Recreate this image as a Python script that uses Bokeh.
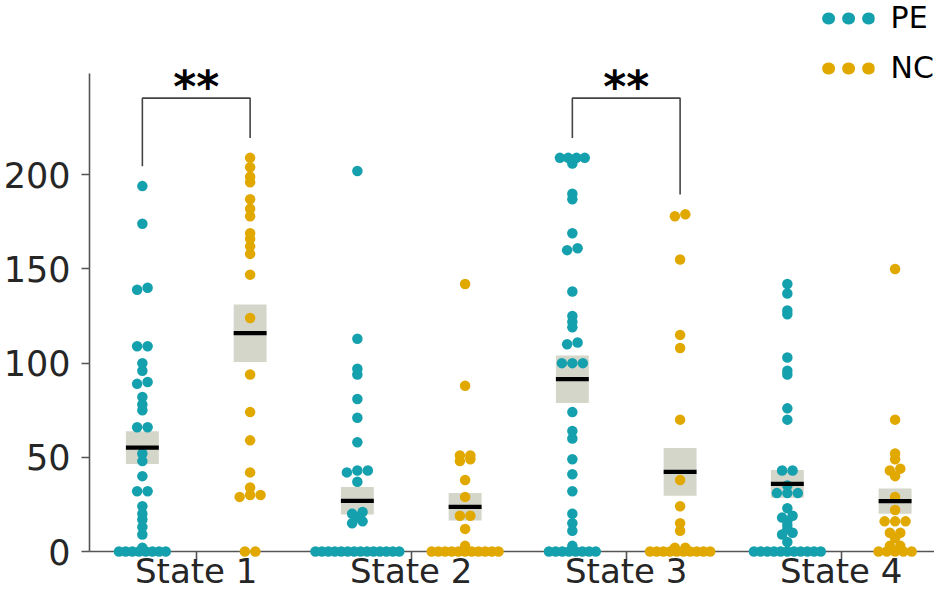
from bokeh.plotting import figure
from bokeh.models import Range1d, FixedTicker, Legend, LegendItem
from bokeh.core.properties import value
from bokeh.embed import file_html
from bokeh.resources import INLINE

# ---------------- data ----------------
states = ["State 1", "State 2", "State 3", "State 4"]
groups = ["PE", "NC"]

pe_s1 = [194, 174, 140, 139, 109, 109, 100, 96, 90, 89, 82, 78, 75, 66, 66, 52, 48, 40,
         32, 32, 24, 20, 17, 13, 9, 2, 0, 0, 0, 0, 0, 0, 0, 0]
pe_s2 = [202, 113, 97, 94, 81, 71, 58, 43, 43, 42, 37, 21, 20, 18, 16, 15,
         0, 0, 0, 0, 0, 0, 0, 0, 0, 0, 0, 0, 0, 0]
pe_s3 = [209, 209, 209, 209, 206, 190, 187, 169, 161, 160, 138, 125, 122, 119, 111, 110,
         100, 100, 100, 74, 64, 60, 49, 41, 32, 20, 15, 11, 3, 0, 0, 0, 0, 0, 0, 0, 0]
pe_s4 = [142, 137, 128, 126, 103, 96, 94, 76, 70, 43, 43, 35, 31, 31, 31, 23, 19, 18, 16,
         14, 12, 10, 9, 5, 0, 0, 0, 0, 0, 0, 0, 0, 0, 0, 0]

nc_s1 = [209, 204, 199, 196, 187, 182, 178, 169, 166, 162, 158, 147, 124, 94, 74, 59, 42,
         34, 30, 30, 29, 0, 0]
nc_s2 = [142, 88, 51, 51, 49, 48, 38, 29, 19, 19, 12, 3, 0, 0, 0, 0, 0, 0, 0, 0, 0, 0, 0]
nc_s3 = [179, 178, 155, 115, 108, 70, 38, 24, 15, 11, 2, 2, 0, 0, 0, 0, 0, 0, 0, 0, 0, 0]
nc_s4 = [150, 70, 52, 49, 44, 43, 40, 29, 22, 16, 16, 16, 10, 10, 7, 3, 3, 0, 0, 0, 0, 0]

pe_mean = [55.2, 26.9, 91.5, 35.9]
pe_sem = [8.7, 7.3, 12.6, 7.4]
nc_mean = [115.9, 23.7, 42.3, 26.7]
nc_sem = [15.3, 7.3, 12.7, 6.7]

sig_states = [0, 2]
sig_labels = ["**", "**"]

y_ticks = [0, 50, 100, 150, 200]

# ---------------- styling / geometry ----------------
PE_COLOR = "#15a0ad"
NC_COLOR = "#e1a800"
BOX_COLOR = "#d5d6ca"
AXIS_COLOR = "#555555"
TEXT_COLOR = "#262626"
FONT = "DejaVu Sans"

W, H = 934, 591
B_LEFT, B_RIGHT, B_TOP, B_BOTTOM = 87, 0, 0, 40
FRAME_W = W - B_LEFT - B_RIGHT
FRAME_H = H - B_TOP - B_BOTTOM
KX = 215.5        # px per category step
KY = 1.8835       # px per y unit
X0 = -107.0 / KX
X1 = X0 + FRAME_W / KX
Y1 = FRAME_H / KY
DODGE = 0.2506
HALF_BOX = 16.5 / KX
DOT = 10.5
NAN = float("nan")


def swarm(vals, center):
    """Centered row layout of points that fall within ~3.5 px of each other."""
    srt = sorted(vals)
    rows = []
    for v in srt:
        if rows and (v - rows[-1][0]) * KY < 3.5:
            rows[-1].append(v)
        else:
            rows.append([v])
    xs, ys = [], []
    for r in rows:
        n = len(r)
        s = 10.5 if n <= 3 else (8.3 if n <= 5 else 6.7)
        if n > 1:
            s = min(s, 84.0 / (n - 1))
        for i, v in enumerate(r):
            xs.append(center + (i - (n - 1) / 2.0) * s / KX)
            ys.append(v)
    return xs, ys


p = figure(width=W, height=H, x_range=Range1d(X0, X1), y_range=Range1d(0, Y1),
           output_backend="svg", toolbar_location=None,
           min_border_left=B_LEFT, min_border_right=B_RIGHT,
           min_border_top=B_TOP, min_border_bottom=B_BOTTOM)
p.outline_line_color = None
p.xgrid.visible = False
p.ygrid.visible = False
p.background_fill_color = "white"
p.border_fill_color = "white"

# axes
for ax in (p.xaxis[0], p.yaxis[0]):
    ax.axis_line_color = AXIS_COLOR
    ax.axis_line_width = 1.6
    ax.major_tick_line_color = AXIS_COLOR
    ax.major_tick_line_width = 1.6
    ax.major_tick_in = 0
    ax.major_tick_out = 8
    ax.minor_tick_line_color = None
    ax.major_label_text_font = FONT
    ax.major_label_text_color = TEXT_COLOR

p.yaxis.ticker = FixedTicker(ticks=y_ticks)
p.yaxis.bounds = (0, 253.6)
p.yaxis.major_label_standoff = 11
p.yaxis.major_label_text_font_size = "35px"

# x axis: ticks at the categories; the category names are drawn as text below
p.xaxis.ticker = FixedTicker(ticks=list(range(len(states))))
p.xaxis.major_label_overrides = {i: "" for i in range(len(states))}
p.xaxis.major_label_text_font_size = "1px"
p.xaxis.major_label_standoff = 0

series = [
    (PE_COLOR, -DODGE, [pe_s1, pe_s2, pe_s3, pe_s4], pe_mean, pe_sem),
    (NC_COLOR, DODGE, [nc_s1, nc_s2, nc_s3, nc_s4], nc_mean, nc_sem),
]

# SEM boxes
for color, off, data, mean, sem in series:
    cx = [i + off for i in range(len(states))]
    p.quad(left=[c - HALF_BOX for c in cx], right=[c + HALF_BOX for c in cx],
           bottom=[m - s for m, s in zip(mean, sem)], top=[m + s for m, s in zip(mean, sem)],
           fill_color=BOX_COLOR, line_color=None)

# swarm points
for color, off, data, mean, sem in series:
    xs, ys = [], []
    for i, vals in enumerate(data):
        x, y = swarm(vals, i + off)
        xs += x
        ys += y
    r = p.scatter(x=xs, y=ys, size=DOT, fill_color=color, line_color=None)
    r.level = "overlay"

# mean lines
for color, off, data, mean, sem in series:
    cx = [i + off for i in range(len(states))]
    r = p.segment(x0=[c - HALF_BOX for c in cx], x1=[c + HALF_BOX for c in cx],
                  y0=mean, y1=mean, line_color="black", line_width=4.2)
    r.level = "overlay"

# category labels under the axis
cat_r = p.text(x=list(range(len(states))), y=[-19.0 / KY] * len(states), text=states,
               text_font=value(FONT), text_font_size="34px", text_color=TEXT_COLOR,
               text_align="center", text_baseline="alphabetic")
cat_r.level = "overlay"

# significance brackets
all_pe = [pe_s1, pe_s2, pe_s3, pe_s4]
all_nc = [nc_s1, nc_s2, nc_s3, nc_s4]
BR_TOP = 240.7
bxs, bys, tx, ty = [], [], [], []
for si in sig_states:
    l, rr = si - DODGE, si + DODGE
    bxs.append([l, l, rr, rr])
    bys.append([max(all_pe[si]) + 10.5, BR_TOP, BR_TOP, max(all_nc[si]) + 10.5])
    tx.append(si)
    ty.append(BR_TOP + 6.2)
p.multi_line(xs=bxs, ys=bys, line_color="#444444", line_width=1.6)
p.text(x=tx, y=ty, text=sig_labels, text_font=value(FONT), text_font_size="44px",
       text_font_style="bold", text_align="center", text_baseline="alphabetic",
       text_color="black")

# legend (three dots per entry via a dotted round-capped line)
leg_items = []
for name, color in zip(groups, [PE_COLOR, NC_COLOR]):
    lr = p.line(x=[NAN], y=[NAN], line_color=color, line_width=12, line_cap="round",
                line_dash="1 19", line_dash_offset=14)
    leg_items.append(LegendItem(label=name, renderers=[lr]))
legend = Legend(items=leg_items, location="top_right", glyph_width=53, glyph_height=20,
                label_standoff=16, spacing=15, padding=0, margin=0,
                label_text_font=FONT, label_text_font_size="30px",
                label_text_color="black", border_line_color=None,
                background_fill_alpha=0)
p.add_layout(legend)

open("out.html", "w").write(file_html(p, INLINE))
